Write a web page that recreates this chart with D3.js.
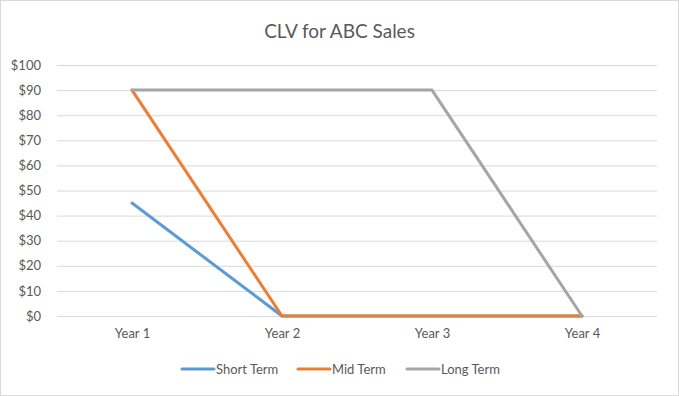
<!DOCTYPE html>
<html><head><meta charset="utf-8">
<script src="https://cdn.jsdelivr.net/npm/d3@7"></script>
<style>html,body{margin:0;padding:0;background:#fff;}svg{display:block;}</style>
</head><body>
<svg id="c" width="679" height="396"></svg>
<script>
const categories = ["Year 1", "Year 2", "Year 3", "Year 4"];
const seriesNames = ["Short Term", "Mid Term", "Long Term"];
const shortTerm = [45, 0, 0, 0];
const midTerm = [90, 0, 0, 0];
const longTerm = [90, 90, 90, 0];
const yTicks = [0, 10, 20, 30, 40, 50, 60, 70, 80, 90, 100];
const colors = ["#5B9BD5", "#ED7D31", "#A5A5A5"];

const series = [shortTerm, midTerm, longTerm];
const svg = d3.select("#c");
const W = 679, H = 396;
const font = "Lato, 'Open Sans', sans-serif";

svg.append("rect").attr("x", 0.5).attr("y", 0.5).attr("width", W - 1).attr("height", H - 1)
  .attr("fill", "#fff").attr("stroke", "#D9D9D9");

const x = d3.scalePoint().domain(categories).range([132, 582]);
const y = d3.scaleLinear().domain([0, 100]).range([316, 65]);

svg.append("text").attr("x", 339.5).attr("y", 38).attr("text-anchor", "middle")
  .attr("font-family", font).attr("font-size", 19).attr("fill", "#595959").text("CLV for ABC Sales");

const yAxis = d3.axisLeft(y).tickValues(yTicks).tickSize(-600).tickFormat(d => "$" + d);
const gy = svg.append("g").attr("transform", "translate(57,0)").call(yAxis);
gy.select(".domain").remove();
gy.selectAll(".tick line").attr("stroke", "#D9D9D9").attr("stroke-width", 1);
gy.selectAll(".tick text").attr("x", -16).attr("font-family", font).attr("font-size", 13).attr("fill", "#595959");

const xAxis = d3.axisBottom(x).tickSize(0).tickPadding(13);
const gx = svg.append("g").attr("transform", "translate(0,316)").call(xAxis);
gx.select(".domain").remove();
gx.selectAll(".tick text").attr("font-family", font).attr("font-size", 13).attr("fill", "#595959");

const line = d3.line().x((d, i) => x(categories[i])).y(d => y(d));
series.forEach((s, k) => {
  svg.append("path").datum(s).attr("d", line).attr("fill", "none")
    .attr("stroke", colors[k]).attr("stroke-width", 3).attr("stroke-linejoin", "round").attr("stroke-linecap", "round");
});

const legendX = [182, 298, 407];
seriesNames.forEach((n, k) => {
  const g = svg.append("g").attr("transform", `translate(${legendX[k]},369)`);
  g.append("line").attr("x1", 0).attr("x2", 32).attr("stroke", colors[k]).attr("stroke-width", 3).attr("stroke-linecap", "round");
  g.append("text").attr("x", 34).attr("dy", "0.35em").attr("font-family", font).attr("font-size", 13)
    .attr("fill", "#595959").text(n);
});
</script>
</body></html>
